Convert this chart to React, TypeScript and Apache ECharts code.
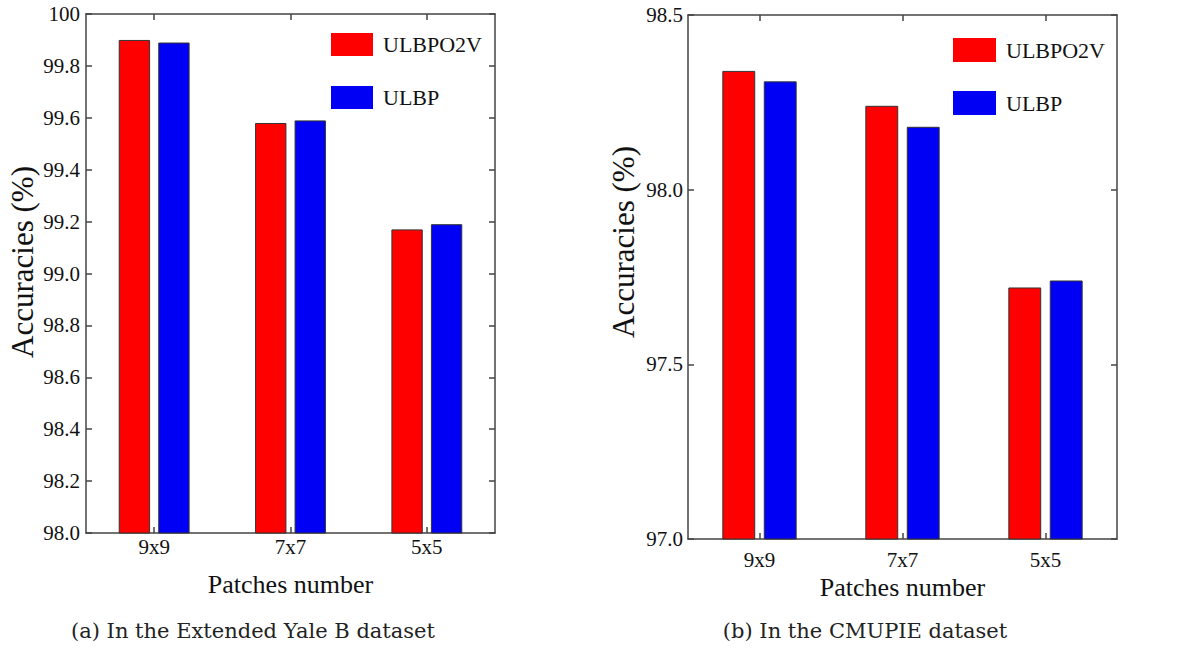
import React, { useEffect, useRef } from "react";
import * as echarts from "echarts";

const categories = ["9x9", "7x7", "5x5"];
const seriesNames = ["ULBPO2V", "ULBP"];
const yaleULBPO2V = [99.9, 99.58, 99.17];
const yaleULBP = [99.89, 99.59, 99.19];
const cmuULBPO2V = [98.34, 98.24, 97.72];
const cmuULBP = [98.31, 98.18, 97.74];
const yaleAxis = { min: 98, max: 100, interval: 0.2 };
const cmuAxis = { min: 97, max: 98.5, interval: 0.5 };
const xAxisTitle = "Patches number";
const yAxisTitle = "Accuracies (%)";
const captions = ["(a) In the Extended Yale B dataset", "(b) In the CMUPIE dataset"];

const FONT = "'Liberation Serif', 'Times New Roman', serif";
const CAPTION_FONT = "'DejaVu Serif', serif";
const AXIS_COLOR = "#444";
const RED = "#ff0000";
const BLUE = "#0000f5";

export default function App() {
  const ref = useRef<HTMLDivElement>(null);
  useEffect(() => {
    if (!ref.current) return;
    const chart = echarts.init(ref.current, null, { renderer: "svg" });
    const axisLine = { show: true, lineStyle: { color: AXIS_COLOR, width: 1.5 } };
    const grids = [
      { left: 86, top: 14, width: 409, height: 519 },
      { left: 688, top: 15, width: 429, height: 524 },
    ];
    const bottomX = (gridIndex: number, margin: number, nameGap: number) => ({
      type: "category",
      gridIndex,
      position: "bottom",
      data: categories,
      axisLine,
      axisTick: { show: true, inside: true, alignWithLabel: true, length: 6, lineStyle: { color: AXIS_COLOR, width: 1.5 } },
      axisLabel: { fontFamily: FONT, fontSize: 21, color: "#111", margin },
      name: xAxisTitle,
      nameLocation: "middle",
      nameGap,
      nameTextStyle: { fontFamily: FONT, fontSize: 26, color: "#111" },
    });
    const topX = (gridIndex: number) => ({
      type: "category",
      gridIndex,
      position: "top",
      data: categories,
      axisLine,
      axisTick: { show: true, inside: true, alignWithLabel: true, length: 6, lineStyle: { color: AXIS_COLOR, width: 1.5 } },
      axisLabel: { show: false },
    });
    const leftY = (gridIndex: number, ax: any, margin: number, fmt: (v: number) => string) => ({
      type: "value",
      gridIndex,
      position: "left",
      min: ax.min,
      max: ax.max,
      interval: ax.interval,
      axisLine,
      splitLine: { show: false },
      axisTick: { show: true, inside: true, length: 6, lineStyle: { color: AXIS_COLOR, width: 1.5 } },
      axisLabel: { fontFamily: FONT, fontSize: 21, color: "#111", margin, formatter: fmt },
    });
    const rightY = (gridIndex: number, ax: any) => ({
      type: "value",
      gridIndex,
      position: "right",
      min: ax.min,
      max: ax.max,
      interval: ax.interval,
      axisLine,
      splitLine: { show: false },
      axisTick: { show: true, inside: true, length: 6, lineStyle: { color: AXIS_COLOR, width: 1.5 } },
      axisLabel: { show: false },
    });
    const fmt1 = (v: number) => (Math.abs(v - 100) < 1e-9 ? "100" : v.toFixed(1));
    const fmt2 = (v: number) => v.toFixed(1);
    const bar = (name: string, data: number[], color: string, xi: number, yi: number) => ({
      type: "bar",
      name,
      data,
      xAxisIndex: xi,
      yAxisIndex: yi,
      barWidth: "23%",
      barGap: "26%",
      itemStyle: { color, borderColor: "#333", borderWidth: 1 },
    });
    const legend = (left: number, top: number, w: number, h: number, gap: number) => ({
      data: seriesNames,
      orient: "vertical",
      left,
      top,
      padding: 0,
      itemWidth: w,
      itemHeight: h,
      itemGap: gap,
      icon: "rect",
      selectedMode: false,
      itemStyle: { borderWidth: 0 },
      textStyle: { fontFamily: FONT, fontSize: 22, color: "#111", padding: [0, 0, 0, 5] },
    });
    chart.setOption({
      animation: false,
      backgroundColor: "#ffffff",
      textStyle: { fontFamily: FONT },
      grid: grids,
      xAxis: [bottomX(0, 3, 38), topX(0), bottomX(1, 10, 33), topX(1)],
      yAxis: [leftY(0, yaleAxis, 6, fmt1), rightY(0, yaleAxis), leftY(1, cmuAxis, 5, fmt2), rightY(1, cmuAxis)],
      legend: [legend(331, 33, 42, 23, 30), legend(953, 38, 43, 24, 29)],
      series: [
        bar(seriesNames[0], yaleULBPO2V, RED, 0, 0),
        bar(seriesNames[1], yaleULBP, BLUE, 0, 0),
        bar(seriesNames[0], cmuULBPO2V, RED, 2, 2),
        bar(seriesNames[1], cmuULBP, BLUE, 2, 2),
      ],
      graphic: [
        {
          type: "text",
          x: 22,
          y: 262,
          rotation: Math.PI / 2,
          style: { text: yAxisTitle, fontFamily: FONT, fontSize: 31, fill: "#111", align: "center", verticalAlign: "middle" },
        },
        {
          type: "text",
          x: 623,
          y: 242,
          rotation: Math.PI / 2,
          style: { text: yAxisTitle, fontFamily: FONT, fontSize: 31, fill: "#111", align: "center", verticalAlign: "middle" },
        },
        {
          type: "text",
          x: 253,
          y: 631,
          style: { text: captions[0], fontFamily: CAPTION_FONT, fontSize: 21, fill: "#222", align: "center", verticalAlign: "middle" },
        },
        {
          type: "text",
          x: 865,
          y: 631,
          style: { text: captions[1], fontFamily: CAPTION_FONT, fontSize: 21, fill: "#222", align: "center", verticalAlign: "middle" },
        },
      ],
    });
    return () => chart.dispose();
  }, []);
  return (
    <div
      ref={ref}
      style={{ position: "fixed", left: 0, top: 0, width: 1198, height: 648, background: "#fff" }}
    />
  );
}
